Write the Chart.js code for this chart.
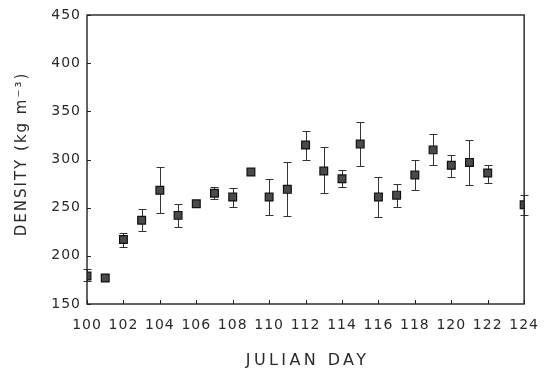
<!DOCTYPE html>
<html>
<head>
<meta charset="utf-8">
<script src="https://cdn.jsdelivr.net/npm/chart.js@4"></script>
<style>
  body { margin: 0; background: #fff; }
  #wrap { width: 552px; height: 370px; }
</style>
</head>
<body>
<div id="wrap"><canvas id="densityChart"></canvas></div>
<script>
// julian day, mean density and error bar ends
const days    = [100, 101, 102, 103, 104, 105, 106, 107, 108, 109, 110, 111, 112, 113, 114, 115, 116, 117, 118, 119, 120, 121, 122, 124];
const density = [179, 177, 217, 237, 268, 242, 254, 265, 261, 287, 261, 269, 315, 288, 280, 316, 261, 263, 284, 310, 294, 297, 286, 253];
const errLow  = [174, 177, 209, 226, 244, 230, 251, 259, 251, 287, 242, 241, 300, 265, 271, 293, 240, 251, 268, 294, 282, 274, 276, 242];
const errHigh = [186, 177, 224, 249, 292, 254, 257, 271, 270, 287, 280, 297, 330, 313, 289, 339, 282, 275, 300, 326, 305, 320, 294, 263];
const xTicks  = [100, 102, 104, 106, 108, 110, 112, 114, 116, 118, 120, 122, 124];
const yTicks  = [150, 200, 250, 300, 350, 400, 450];
const xTitle  = 'JULIAN DAY';
const yTitle  = 'DENSITY (kg m\u207B\u00B3)';

const points = days.map((d, i) => ({ x: d, y: density[i] }));
const FONT = "'DejaVu Sans'";

// error bars, box frame, inward tick marks and spaced-out axis titles
const extras = {
  id: 'extras',
  beforeLayout(chart) { chart.ctx.letterSpacing = '1px'; },
  beforeDraw(chart) { chart.ctx.letterSpacing = '1px'; },
  beforeDatasetsDraw(chart) {
    const { ctx, scales: { x, y } } = chart;
    ctx.save();
    ctx.strokeStyle = '#333';
    ctx.lineWidth = 1;
    days.forEach((d, i) => {
      if (errHigh[i] === errLow[i]) return;
      const px = Math.round(x.getPixelForValue(d)) + 0.5;
      const top = Math.round(y.getPixelForValue(errHigh[i])) + 0.5;
      const bot = Math.round(y.getPixelForValue(errLow[i])) + 0.5;
      ctx.beginPath();
      ctx.moveTo(px, top); ctx.lineTo(px, bot);
      ctx.moveTo(px - 4, top); ctx.lineTo(px + 4, top);
      ctx.moveTo(px - 4, bot); ctx.lineTo(px + 4, bot);
      ctx.stroke();
    });
    ctx.restore();
  },
  afterDraw(chart) {
    const { ctx, chartArea: a, scales: { x, y } } = chart;
    ctx.save();
    ctx.strokeStyle = '#222';
    ctx.lineWidth = 1.4;
    ctx.strokeRect(a.left, a.top, a.right - a.left, a.bottom - a.top);
    ctx.lineWidth = 1;
    ctx.beginPath();
    xTicks.forEach(t => {
      const px = Math.round(x.getPixelForValue(t)) + 0.5;
      ctx.moveTo(px, a.bottom); ctx.lineTo(px, a.bottom - 4);
    });
    yTicks.forEach(t => {
      const py = Math.round(y.getPixelForValue(t)) + 0.5;
      ctx.moveTo(a.left, py); ctx.lineTo(a.left + 4, py);
    });
    ctx.stroke();

    ctx.fillStyle = '#2a2a2a';
    ctx.textAlign = 'center';
    ctx.textBaseline = 'middle';
    ctx.font = '16px ' + FONT;
    ctx.letterSpacing = '3.4px';
    ctx.fillText(xTitle, (a.left + a.right) / 2 + 2, 361);

    ctx.font = '15px ' + FONT;
    ctx.translate(22, 154);
    ctx.rotate(-Math.PI / 2);
    ctx.letterSpacing = '2px';
    ctx.fillText(yTitle, 0, 0);
    ctx.restore();
  }
};

const ctx = document.getElementById('densityChart').getContext('2d');

const densityChart = new Chart(ctx, {
  type: 'scatter',
  data: {
    datasets: [{
      label: 'Density',
      data: points,
      pointStyle: 'rect',
      pointRadius: 5.5,
      backgroundColor: '#4a4a4a',
      borderColor: '#111',
      borderWidth: 1.2
    }]
  },
  options: {
    responsive: true,
    maintainAspectRatio: false,
    animation: false,
    layout: { padding: { top: 15, right: 18, bottom: 0, left: 0 } },
    plugins: {
      legend: { display: false },
      tooltip: { enabled: false }
    },
    scales: {
      x: {
        type: 'linear',
        min: 100,
        max: 124,
        afterBuildTicks: s => { s.ticks = xTicks.map(v => ({ value: v })); },
        afterFit: s => { s.height = 66; },
        grid: { display: false, drawTicks: false },
        border: { display: false },
        ticks: { color: '#2a2a2a', font: { family: FONT, size: 14 }, padding: 13, maxRotation: 0 }
      },
      y: {
        min: 150,
        max: 450,
        afterBuildTicks: s => { s.ticks = yTicks.map(v => ({ value: v })); },
        afterFit: s => { s.width = 87; },
        grid: { display: false, drawTicks: false },
        border: { display: false },
        ticks: { color: '#2a2a2a', font: { family: FONT, size: 14 }, padding: 6 }
      }
    }
  },
  plugins: [extras]
});
</script>
</body>
</html>
